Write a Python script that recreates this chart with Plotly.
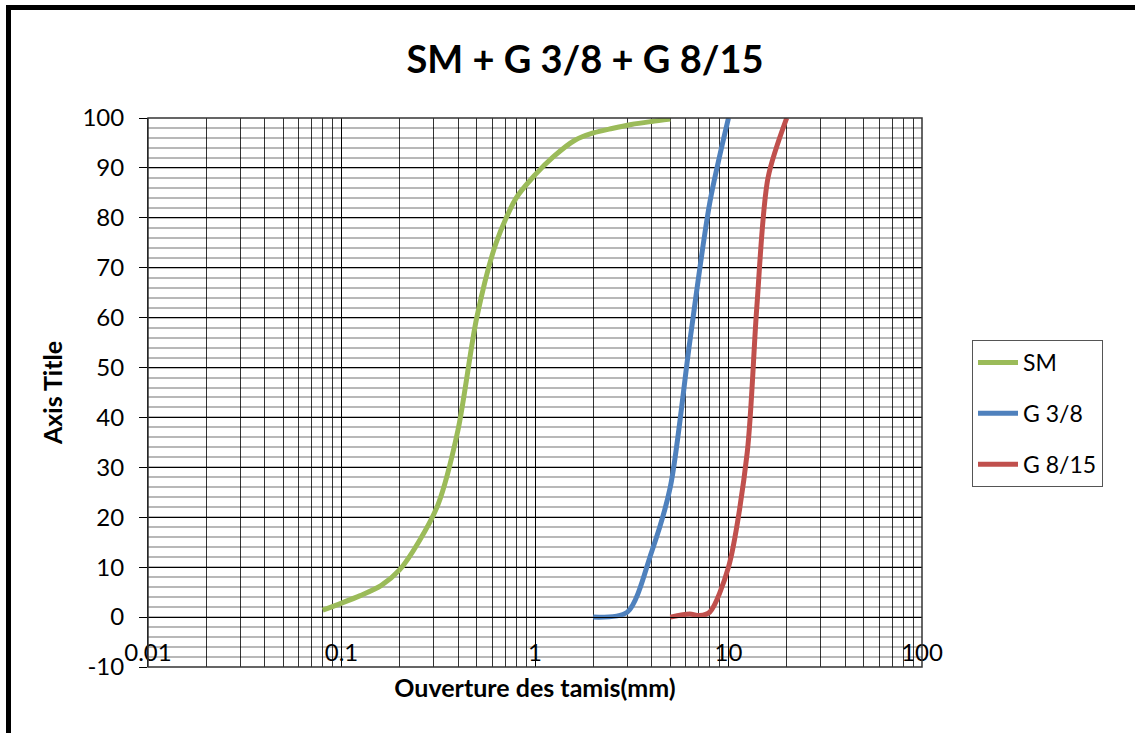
import plotly.graph_objects as go

# ---- data ----
sm_x = [0.08, 0.1, 0.125, 0.16, 0.2, 0.25, 0.315, 0.4, 0.5, 0.63, 0.8, 1, 1.25, 1.6, 2, 2.5, 3.15, 4, 5]
sm_y = [1.4, 2.8, 4.3, 6.3, 9.5, 15, 22.5, 37.5, 60, 75, 84, 88.6, 92.3, 95.5, 97, 97.9, 98.7, 99.3, 99.8]

g38_x = [2, 3, 4, 5, 6.3, 8, 10]
g38_y = [0, 1, 13, 26, 55, 83, 100]

g815_x = [5, 6.3, 7.1, 8, 10, 12.5, 14, 16, 20]
g815_y = [0, 0.6, 0.3, 1, 10, 33, 62, 88, 100]

series_names = ["SM", "G 3/8", "G 8/15"]
colors = ["#9BBB59", "#4F81BD", "#C0504D"]

x_tickvals = [0.01, 0.1, 1, 10, 100]
x_ticktext = ["0.01", "0.1", "1", "10", "100"]
y_tickvals = [-10, 0, 10, 20, 30, 40, 50, 60, 70, 80, 90, 100]
y_ticktext = ["-10", "0", "10", "20", "30", "40", "50", "60", "70", "80", "90", "100"]
y_range = [-10, 100]
x_log_range = [-2, 2]

FONT = "Lato, 'Open Sans', sans-serif"

fig = go.Figure()
for name, xs, ys, c in zip(series_names, [sm_x, g38_x, g815_x],
                           [sm_y, g38_y, g815_y], colors):
    fig.add_trace(go.Scatter(x=xs, y=ys, mode="lines", name=name,
                             legendgroup=name,
                             line=dict(color=c, width=5, shape="spline", smoothing=0.8)))

minor_x = [m * 10 ** e for e in range(-2, 2) for m in range(2, 10)]

fig.update_layout(
    width=1135, height=733,
    margin=dict(l=148, r=213, t=118, b=66),
    paper_bgcolor="white", plot_bgcolor="white",
    font=dict(family=FONT, color="black", size=24),
    title=dict(text="<b>SM + G 3/8 + G 8/15</b>", x=585 / 1135, xref="container",
               xanchor="center",
               y=1 - 60 / 733, yanchor="middle",
               font=dict(size=38, family=FONT, color="black")),
    legend=dict(x=(972 - 148) / 774, xanchor="left", y=(667 - 340) / 549, yanchor="top",
                bordercolor="#555", borderwidth=1, bgcolor="white",
                font=dict(size=23, family=FONT), tracegroupgap=18,
                itemwidth=40),
    showlegend=True,
)

fig.update_xaxes(
    type="log", range=x_log_range,
    tickmode="array", tickvals=x_tickvals, ticktext=x_ticktext,
    anchor="free", position=(0 - y_range[0]) / (y_range[1] - y_range[0]),
    showline=True, linecolor="black", linewidth=1,
    ticks="", ticklabelstandoff=14,
    showgrid=True, gridcolor="black", gridwidth=1,
    minor=dict(tickmode="array", tickvals=minor_x, showgrid=True,
               gridcolor="#333", gridwidth=1, ticks=""),
    tickfont=dict(size=24),
    title=dict(text="<b>Ouverture des tamis(mm)</b>", standoff=14,
               font=dict(size=25)),
    zeroline=False,
)

fig.update_yaxes(
    range=y_range, tickmode="array", tickvals=y_tickvals, ticktext=y_ticktext,
    showline=True, linecolor="black", linewidth=1,
    ticks="outside", ticklen=8, tickcolor="black",
    ticklabelstandoff=10,
    showgrid=True, gridcolor="black", gridwidth=1,
    minor=dict(tickmode="linear", tick0=0, dtick=2, showgrid=True,
               gridcolor="rgba(0,0,0,0.28)", gridwidth=1.5),
    tickfont=dict(size=24),
    title=dict(text="<b>Axis Title</b>", standoff=12, font=dict(size=25)),
    zeroline=False,
)

# plot-area border and outer chart frame
fig.add_shape(type="rect", xref="x domain", yref="y domain", x0=0, y0=0, x1=1, y1=1,
              line=dict(color="#333", width=1.5), layer="above")
fig.add_shape(type="rect", xref="paper", yref="paper",
              x0=(8.5 - 148) / 774, y0=-0.3, x1=1.4, y1=(667 - 7.5) / 549,
              line=dict(color="black", width=5), layer="above")

fig.write_html("out.html")
